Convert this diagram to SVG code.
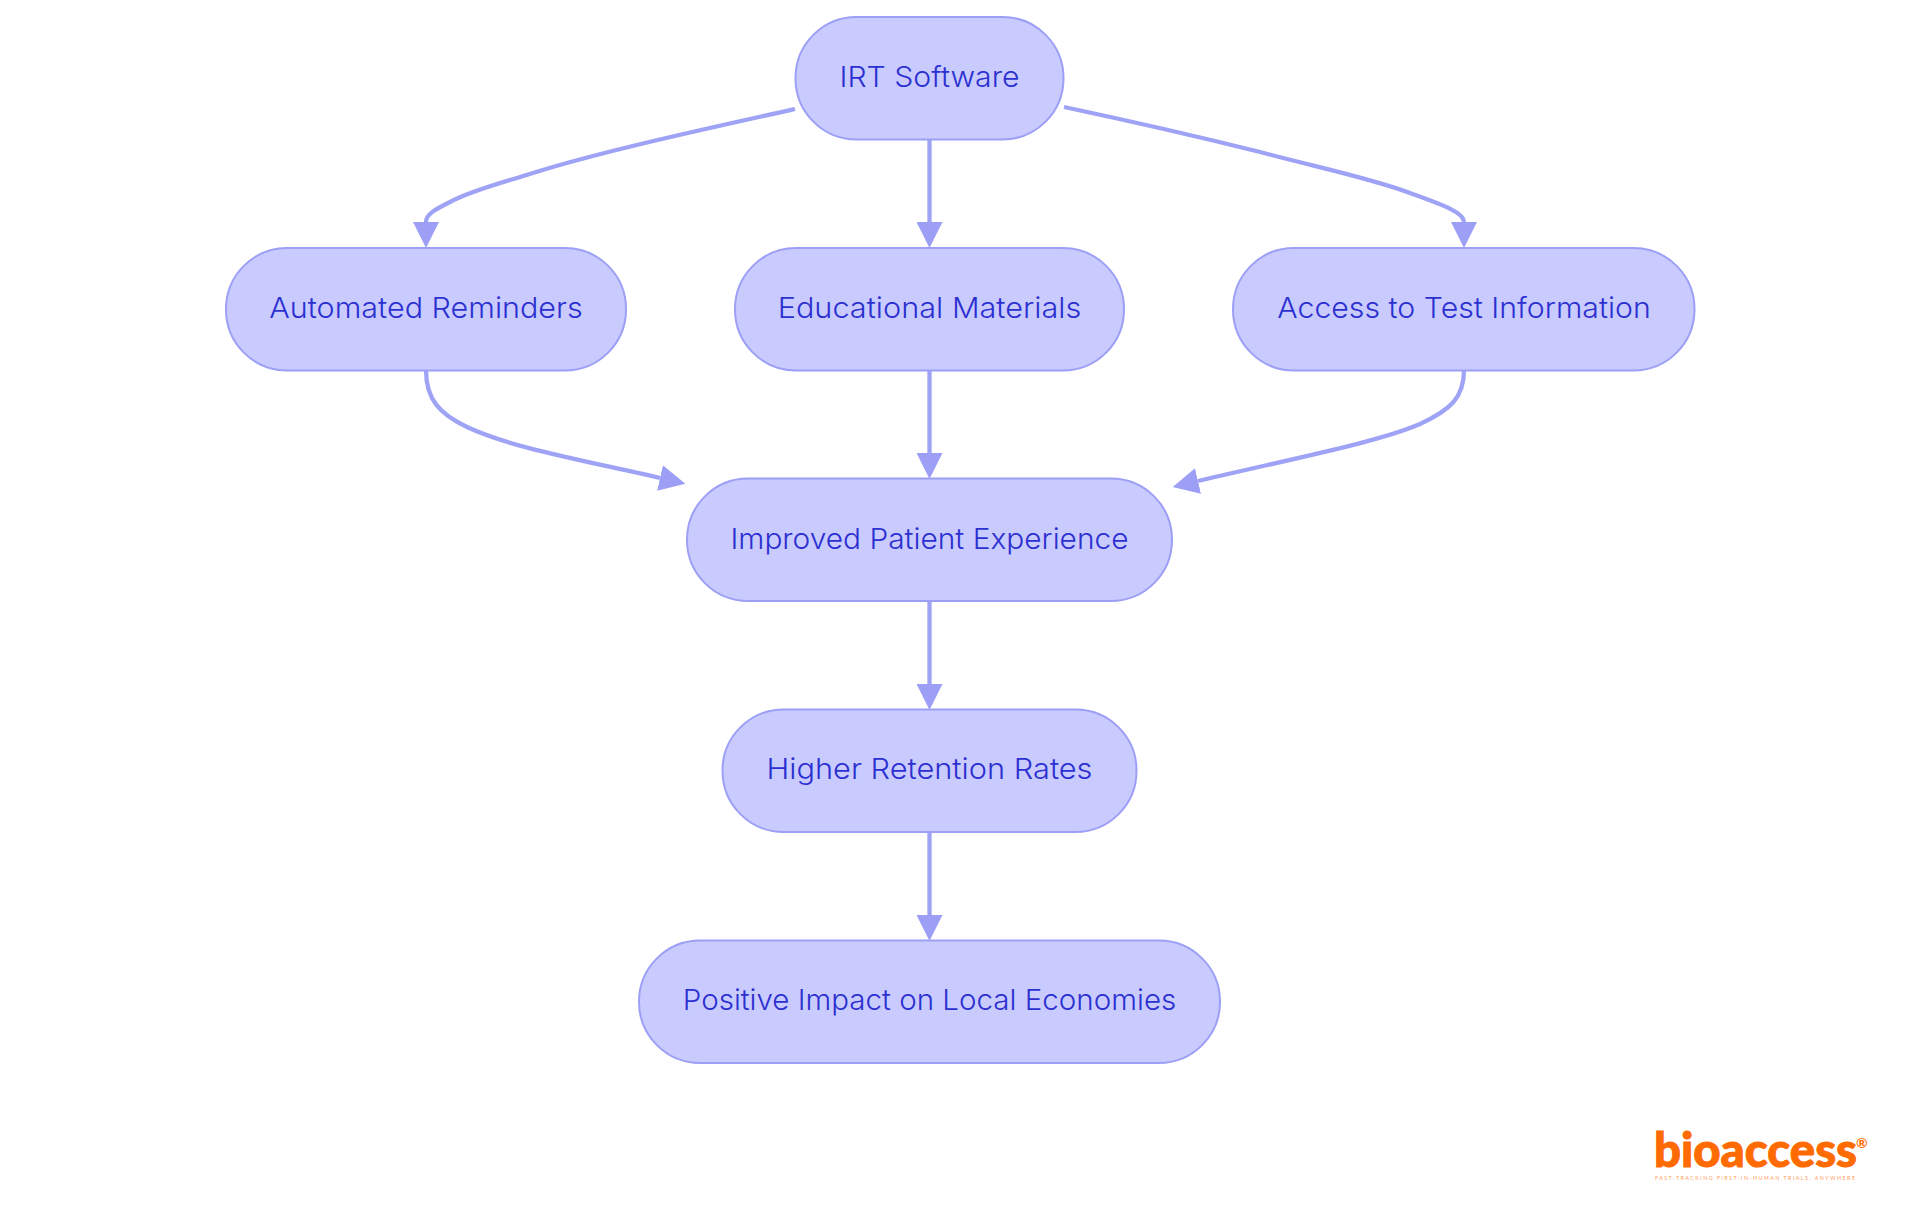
<svg xmlns="http://www.w3.org/2000/svg" width="1920" height="1215" viewBox="0 0 1920 1215">
<style>
.n rect{fill:#c9cbff;stroke:#9c9ff5;stroke-width:2}
.n text{font-family:"Inter","Noto Sans",sans-serif;font-size:29px;font-weight:350;fill:#2c30d0;text-anchor:middle}
.e path{fill:none;stroke:#9fa3f5;stroke-width:4.3;marker-end:url(#a)}
.logo{font-family:"Lato","Liberation Sans",sans-serif;fill:#ff6b00}
</style>
<defs><marker id="a" markerUnits="userSpaceOnUse" markerWidth="26" markerHeight="26" viewBox="0 0 10 10" refX="0" refY="5" orient="auto"><path d="M0,0L10,5L0,10z" fill="#9c9ff5"/></marker></defs>
<rect width="1920" height="1215" fill="#fff"/>
<g id="connectors" class="e">
<path d="M795,109C700,130 600,152 533,173C505,182 472,190 450,202C436,209 426,214 426,222"/>
<path d="M929.5,139V222"/>
<path d="M1064,107C1130,121 1200,137 1260,152C1320,168 1370,178 1410,193C1440,204 1464,212 1464,222"/>
<path d="M426,370C426,400 440,414 467,427C510,447 572,458 660,478"/>
<path d="M929.5,370V453"/>
<path d="M1464,370C1464,398 1450,410 1420,424C1378,442 1300,457 1198,481"/>
<path d="M929.5,600V684"/>
<path d="M929.5,832V915"/>
</g>
<g id="n1" class="n"><rect x="795.5" y="17" width="268" height="122.5" rx="61" ry="61"/><text x="929.5" y="87" textLength="180" lengthAdjust="spacingAndGlyphs">IRT Software</text></g>
<g id="n2" class="n"><rect x="226" y="248" width="400" height="122.5" rx="61" ry="61"/><text x="426" y="318" textLength="313.5" lengthAdjust="spacingAndGlyphs">Automated Reminders</text></g>
<g id="n3" class="n"><rect x="735" y="248" width="389" height="122.5" rx="61" ry="61"/><text x="929.5" y="318" textLength="303.7" lengthAdjust="spacingAndGlyphs">Educational Materials</text></g>
<g id="n4" class="n"><rect x="1233" y="248" width="461.5" height="122.5" rx="61" ry="61"/><text x="1464" y="318" textLength="373.5" lengthAdjust="spacingAndGlyphs">Access to Test Information</text></g>
<g id="n5" class="n"><rect x="687" y="478.5" width="485" height="122.5" rx="61" ry="61"/><text x="929.5" y="549" textLength="398" lengthAdjust="spacingAndGlyphs">Improved Patient Experience</text></g>
<g id="n6" class="n"><rect x="722.5" y="709.5" width="414" height="122.5" rx="61" ry="61"/><text x="929.5" y="779" textLength="326" lengthAdjust="spacingAndGlyphs">Higher Retention Rates</text></g>
<g id="n7" class="n"><rect x="639" y="940.5" width="581" height="122.5" rx="61" ry="61"/><text x="929.5" y="1010" textLength="493.5" lengthAdjust="spacingAndGlyphs">Positive Impact on Local Economies</text></g>
<g id="logo">
<text class="logo" x="1654" y="1167" font-size="48" font-weight="900" textLength="203" lengthAdjust="spacingAndGlyphs" stroke="#ff6b00" stroke-width="1">bioaccess</text>
<text class="logo" x="1856" y="1148" font-size="14" font-weight="700">®</text>
<text class="logo" x="1655" y="1180" font-size="5.4" font-weight="400" textLength="200" fill-opacity=".7">FAST-TRACKING FIRST-IN-HUMAN TRIALS, ANYWHERE</text>
</g>
</svg>
